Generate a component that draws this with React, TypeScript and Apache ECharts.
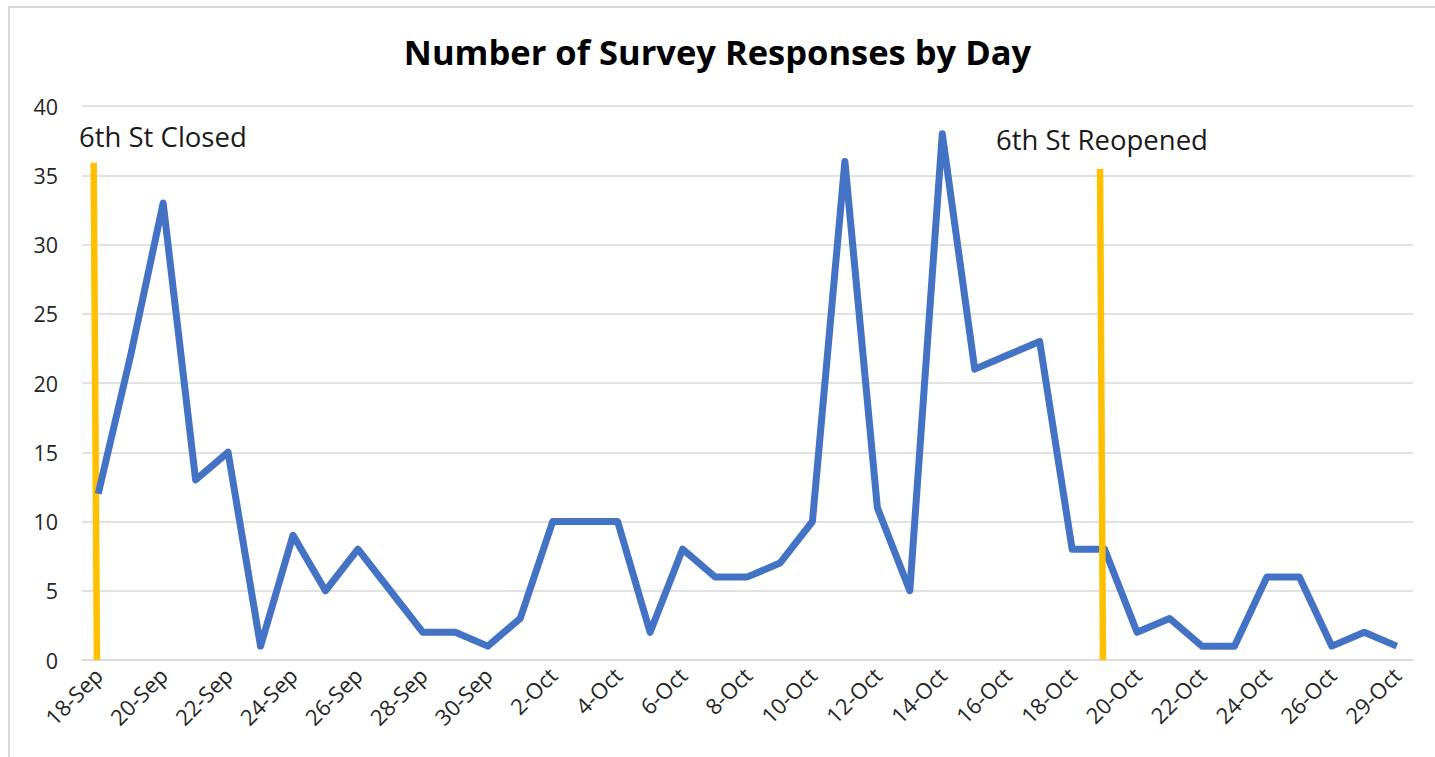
import React, { useEffect, useRef } from "react";
import * as echarts from "echarts";

const categories = [
  "18-Sep", "19-Sep", "20-Sep", "21-Sep", "22-Sep", "23-Sep", "24-Sep", "25-Sep", "26-Sep", "27-Sep",
  "28-Sep", "29-Sep", "30-Sep", "1-Oct", "2-Oct", "3-Oct", "4-Oct", "5-Oct", "6-Oct", "7-Oct",
  "8-Oct", "9-Oct", "10-Oct", "11-Oct", "12-Oct", "13-Oct", "14-Oct", "15-Oct", "16-Oct", "17-Oct",
  "18-Oct", "19-Oct", "20-Oct", "21-Oct", "22-Oct", "23-Oct", "24-Oct", "25-Oct", "26-Oct", "28-Oct",
  "29-Oct",
];
const responses = [
  12, 22, 33, 13, 15, 1, 9, 5, 8, 5,
  2, 2, 1, 3, 10, 10, 10, 2, 8, 6,
  6, 7, 10, 36, 11, 5, 38, 21, 22, 23,
  8, 8, 2, 3, 1, 1, 6, 6, 1, 2,
  1,
];
// event markers: [x position in category index units, value]
const closedLine = [[-0.04, 0], [-0.14, 35.9]];
const reopenedLine = [[30.95, 0], [30.86, 35.45]];
const yTicks = { min: 0, max: 40, interval: 5 };

const FONT = "'Open Sans', 'Noto Sans', sans-serif";

export default function App() {
  const ref = useRef<HTMLDivElement>(null);
  useEffect(() => {
    const chart = echarts.init(ref.current!, null, { renderer: "svg" });
    chart.setOption({
      animation: false,
      backgroundColor: "#ffffff",
      textStyle: { fontFamily: FONT },
      title: {
        text: "Number of Survey Responses by Day",
        left: "center",
        top: 29,
        textStyle: { fontFamily: FONT, fontSize: 34.5, fontWeight: "bold", color: "#000000" },
      },
      grid: { left: 82, right: 22, top: 106, bottom: 97, containLabel: false },
      xAxis: [
        {
          type: "category",
          data: categories,
          boundaryGap: true,
          axisLine: { show: true, lineStyle: { color: "#d9d9d9", width: 1.5 } },
          axisTick: { show: false },
          axisLabel: {
            interval: 1,
            rotate: 45,
            fontSize: 22,
            color: "#262626",
            fontFamily: FONT,
            margin: 11,
          },
        },
        {
          type: "value",
          min: -0.5,
          max: categories.length - 0.5,
          show: false,
        },
      ],
      yAxis: {
        type: "value",
        min: yTicks.min,
        max: yTicks.max,
        interval: yTicks.interval,
        axisLine: { show: false },
        axisTick: { show: false },
        axisLabel: { fontSize: 21.5, color: "#262626", fontFamily: FONT, margin: 24 },
        splitLine: { lineStyle: { color: "#d9d9d9", width: 1.5 } },
      },
      series: [
        {
          type: "line",
          data: responses,
          xAxisIndex: 0,
          symbol: "none",
          lineStyle: { color: "#4472C4", width: 7, join: "round" },
          z: 3,
        },
        {
          type: "line",
          data: closedLine,
          xAxisIndex: 1,
          symbol: "none",
          lineStyle: { color: "#FFC000", width: 6.5, cap: "butt" },
          z: 2,
        },
        {
          type: "line",
          data: reopenedLine,
          xAxisIndex: 1,
          symbol: "none",
          lineStyle: { color: "#FFC000", width: 6.5, cap: "butt" },
          z: 4,
        },
      ],
      graphic: [
        {
          type: "rect",
          shape: { x: 9, y: 7, width: 1440, height: 770 },
          style: { fill: "none", stroke: "#d9d9d9", lineWidth: 2 },
          silent: true,
        },
        {
          type: "text",
          left: 79,
          top: 122,
          style: { text: "6th St Closed", fontSize: 27.5, fill: "#1a1a1a", fontFamily: FONT },
        },
        {
          type: "text",
          left: 996,
          top: 125,
          style: { text: "6th St Reopened", fontSize: 27.5, fill: "#1a1a1a", fontFamily: FONT },
        },
      ],
    });
    return () => chart.dispose();
  }, []);
  return (
    <div
      ref={ref}
      style={{ position: "fixed", left: 0, top: 0, width: 1435, height: 757 }}
    />
  );
}
